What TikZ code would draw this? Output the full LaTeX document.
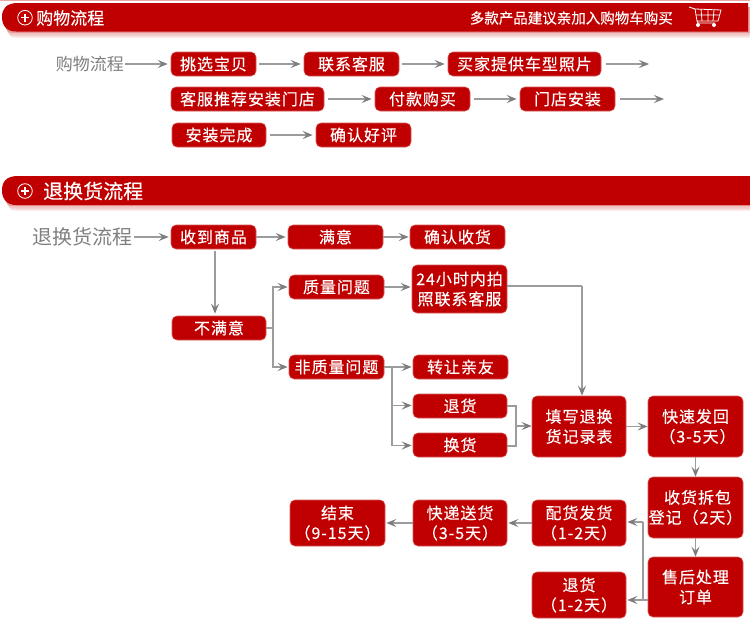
\documentclass[tikz,border=0pt]{standalone}
\usepackage{fontspec}
\setmainfont{Noto Sans CJK SC}
\newfontfamily\bxf[FakeBold=0.25,LetterSpace=6]{Noto Sans CJK SC}
\newfontfamily\hdf[FakeBold=0.2]{Noto Sans CJK SC}
\usetikzlibrary{arrows.meta}
\definecolor{rd}{HTML}{C00000}
\definecolor{gy}{HTML}{9C9C9C}
\definecolor{gt}{HTML}{7F7F7F}
\tikzset{
 x=1pt,y=-1pt,
 bx/.style={fill=rd,draw=rd!65!white,line width=0.6pt,rounded corners=5pt,text=white,font=\bxf\fontsize{16}{20}\selectfont,align=center,inner sep=0pt,anchor=center},
 ar/.style={draw=gy,line width=1.6pt,-{Stealth[length=10pt,width=8pt,inset=4pt,color=gy!80!black]}},
 ln/.style={draw=gy,line width=2pt},
 thick ar/.style={ar,line width=2pt},
 lbl/.style={text=gt,inner sep=0pt},
 bar/.style={fill=rd,draw=none},
}
\newcommand{\bxx}[6]{\node[bx,minimum width=#4pt-#2pt,minimum height=#5pt-#3pt] (#1) at ({(#2+#4)/2},{(#3+#5)/2}) {#6};}
\newcommand{\barshadow}[3]{%
 \fill[rd!12!white] (10,#1+5) -- (#2,#1+5) -- (#2,#1+35.5) -- (16,#1+35.5) .. controls (10,#1+35.5) .. (8,#1+26) -- cycle;
 \fill[rd!22!white] (10,#1+5) -- (#2,#1+5) -- (#2,#1+33.5) -- (16,#1+33.5) .. controls (9,#1+33.5) .. (6,#1+26) -- cycle;
 \fill[rd!40!white] (10,#1+5) -- (#2,#1+5) -- (#2,#1+31) -- (16,#1+31) .. controls (8,#1+31) .. (5,#1+24) -- cycle;
}
\begin{document}
\begin{tikzpicture}
\useasboundingbox (0,0) rectangle (750,637);
% header bars
\fill[rd!35!white] (0,0.3) rectangle (750,1.4);
\barshadow{2}{749.5}{}
\fill[bar] (748,3) -- (18,3) .. controls (6,3) and (2,9) .. (2,17) .. controls (2,26) and (7,31.5) .. (16,31.5) -- (748,31.5) -- cycle;
\draw[white,line width=0.8pt] (25,17.7) circle (7.3);
\draw[white,line width=1.5pt] (21,17.7) -- (29,17.7) (25,13.7) -- (25,21.7);
\node[anchor=west,text=white,font=\hdf\fontsize{17}{20}\selectfont,inner sep=0pt] (h1) at (36,18) {购物流程};
\node[anchor=east,text=white,font=\hdf\fontsize{14.5}{20}\selectfont,inner sep=0pt] (h1r) at (673,18) {多款产品建议亲加入购物车购买};
% cart
\begin{scope}[white,line width=0.8pt]
\draw (689,7) -- (695,9) -- (721,10) -- (718,21) -- (697,21) (695,9) -- (697,21) -- (698,23) -- (715,23);
\draw (701,9) -- (702,21) (708,9.5) -- (708,21) (714,10) -- (713,21) (696,15) -- (719,15);
\fill (698,25) circle (2) (714,25) circle (2);
\end{scope}
\barshadow{175}{750}{}
\fill[bar] (750,176) -- (18,176) .. controls (6,176) and (2,182) .. (2,190.5) .. controls (2,199) and (7,205) .. (16,205) -- (750,205) -- cycle;
\draw[white,line width=0.8pt] (25,191) circle (7.3);
\draw[white,line width=1.5pt] (21,191) -- (29,191) (25,187) -- (25,195);
\node[anchor=west,text=white,font=\hdf\fontsize{20}{22}\selectfont,inner sep=0pt] (h2) at (43,191) {退换货流程};
% section 1
\node[lbl,anchor=east,font=\fontsize{17}{20}\selectfont] (a0) at (124,64) {购物流程};
\bxx{a1}{171}{52}{256}{76}{挑选宝贝}
\bxx{a2}{304}{52}{399}{76}{联系客服}
\bxx{a3}{448}{52}{601}{76}{买家提供车型照片}
\bxx{b1}{171}{87}{324}{111}{客服推荐安装门店}
\bxx{b2}{375}{87}{470}{111}{付款购买}
\bxx{b3}{520}{87}{615}{111}{门店安装}
\bxx{c1}{172}{123}{266}{147}{安装完成}
\bxx{c2}{316}{123}{411}{147}{确认好评}
\coordinate (a4) at (649,64);
\coordinate (b4) at (664,99);
\draw[ar] ([xshift=1pt]a0.east) -- ([xshift=-3pt]a1.west);
\draw[ar] ([xshift=3pt]a1.east) -- ([xshift=-3pt]a2.west);
\draw[ar] ([xshift=3pt]a2.east) -- ([xshift=-3pt]a3.west);
\draw[ar] ([xshift=5pt]a3.east) -- (a4);
\draw[ar] ([xshift=4pt]b1.east) -- ([xshift=-3pt]b2.west);
\draw[ar] ([xshift=4pt]b2.east) -- ([xshift=-3pt]b3.west);
\draw[ar] ([xshift=5pt]b3.east) -- (b4);
\draw[ar] ([xshift=4pt]c1.east) -- ([xshift=-3pt]c2.west);
% section 2
\node[lbl,anchor=east,font=\fontsize{20}{22}\selectfont] (d0) at (133,237) {退换货流程};
\bxx{d1}{171}{225}{256}{249}{收到商品}
\bxx{d2}{288}{225}{383}{249}{满意}
\bxx{d3}{410}{225}{505}{249}{确认收货}
\bxx{e1}{172}{316}{266}{340}{不满意}
\bxx{f1}{289}{275}{384}{299}{质量问题}
\bxx{f2}{412}{265}{507}{313}{24小时内拍\\照联系客服}
\bxx{g1}{289}{355}{384}{379}{非质量问题}
\bxx{g2}{413}{355}{508}{379}{转让亲友}
\bxx{h1b}{413}{394}{507}{418}{退货}
\bxx{h2b}{413}{433}{507}{457}{换货}
\bxx{k1}{532}{396}{626}{457}{填写退换\\货记录表}
\bxx{k2}{648}{396}{743}{457}{快速发回\\\hspace*{4pt}（3-5天）}
\bxx{k3}{648}{477}{743}{538}{\hspace*{4pt}收货拆包\\登记（2天）}
\bxx{k4}{648}{557}{743}{617}{售后处理\\订单}
\bxx{m1}{532}{500}{626}{546}{配货发货\\（1-2天）}
\bxx{m2}{413}{500}{507}{546}{快递送货\\（3-5天）}
\bxx{m3}{290}{500}{385}{546}{结束\\（9-15天）}
\bxx{n1}{532}{572}{626}{618}{退货\\（1-2天）}
\coordinate (j1) at (273,328);
\coordinate (j2) at (392,367);
\coordinate (j3) at (392,405.5);
\coordinate (j4) at (392,445.5);
\coordinate (j5) at (516,405.5);
\coordinate (j6) at (516,445.5);
\coordinate (j7) at (516,426);
\coordinate (j8) at (642.5,600);
\coordinate (j9) at (642.5,522);
\coordinate (j10) at (582,285.5);
\draw[ar] ([xshift=1pt]d0.east) -- ([xshift=-2pt]d1.west);
\draw[ar] (d1.east) -- ([xshift=-2pt]d2.west);
\draw[ar] (d2.east) -- ([xshift=-1pt]d3.west);
\draw[ar] ([yshift=-2pt]d1.south -| 215,0) -- ([yshift=2pt]e1.north -| 215,0);
\draw[ln] (e1.east) -- (j1);
\draw[thick ar] (j1) |- ([xshift=-1pt]f1.west);
\draw[thick ar] (j1) |- ([xshift=-1pt]g1.west);
\draw[ar] (f1.east) -- ([xshift=-1pt]f1.east -| f2.west);
\draw[ln] ([yshift=3.5pt]f2.east) -- (j10);
\draw[thick ar] (j10) -- (j10 |- k1.north);
\draw[ar] (g1.east) -- ([xshift=-1pt]g2.west);
\draw[ln] (j2) -- (j4);
\draw[ar] (j3) -- ([xshift=-1pt]j3 -| h1b.west);
\draw[ar] (j4) -- ([xshift=-1pt]j4 -| h2b.west);
\draw[ln] (j3 -| h1b.east) -- (j5) -- (j6) -- (j4 -| h2b.east);
\draw[ar] (j7) -- (j7 -| k1.west);
\draw[ar] (k1.east) -- (k2.west);
\draw[ar] (k2.south) -- (k3.north);
\draw[ar] (k3.south) -- (k4.north);
\draw[ln] (j8 -| k4.west) -- (j8);
\draw[ar] (j8) -- ([xshift=1pt]j8 -| n1.east);
\draw[ln] (j8) -- (j9);
\draw[ar] (j9) -- ([xshift=1pt]j9 -| m1.east);
\draw[ar] (m1.west) -- ([xshift=1pt]m2.east);
\draw[ar] (m2.west) -- ([xshift=1pt]m3.east);
\end{tikzpicture}
\end{document}
